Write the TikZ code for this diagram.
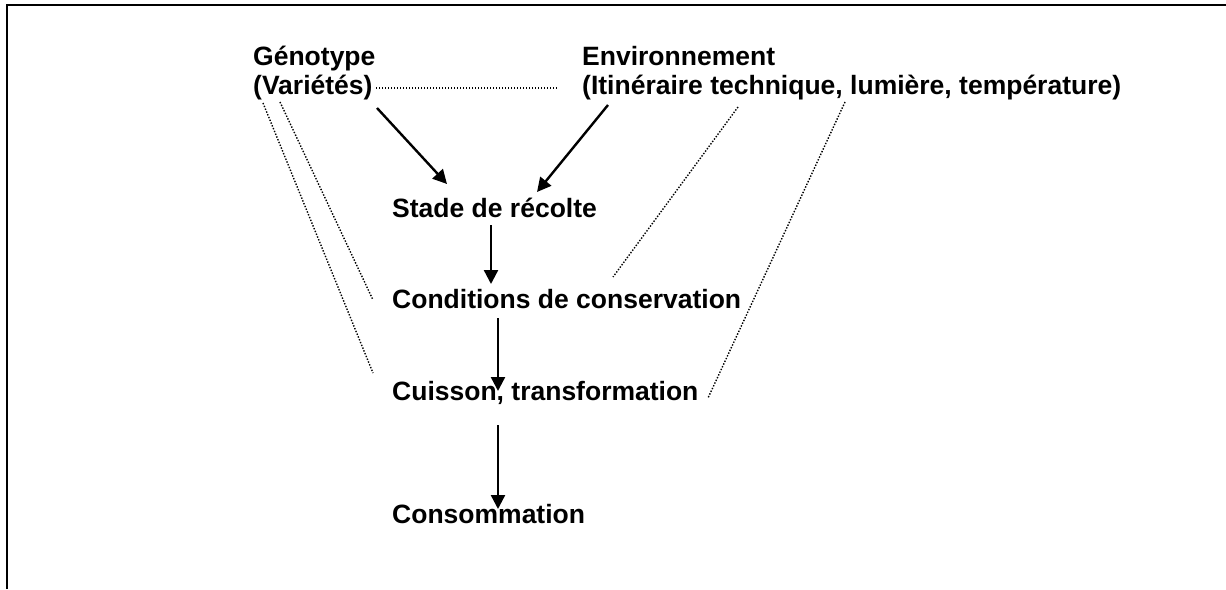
\documentclass[tikz,border=0pt]{standalone}
\usepackage{fontspec}
\setmainfont{Liberation Sans}
\usetikzlibrary{arrows.meta}
\begin{document}
\begin{tikzpicture}[x=1pt,y=-1pt,
  lbl/.style={anchor=base west,inner sep=0pt,font=\fontsize{26.5}{30}\selectfont\bfseries},
  arr/.style={line width=2.4pt,-{Triangle[length=14pt,width=14pt]}},
  dots/.style={line width=1.4pt,dash pattern=on 1.4pt off 1.6pt}]
\useasboundingbox (0,0) rectangle (1226,589);
\draw[line width=2pt] (6.5,589) -- (6.5,5) -- (1226,5);
\node[lbl] (geno) at (253,65) {Génotype};
\node[lbl] (vari) at (253,94) {(Variétés)};
\node[lbl] (envi) at (582,65) {Environnement};
\node[lbl] (itin) at (582,94) {(Itinéraire technique, lumière, température)};
\node[lbl] (stade) at (392,217) {Stade de récolte};
\node[lbl] (cond) at (392,308) {Conditions de conservation};
\node[lbl] (cuis) at (392,400) {Cuisson, transformation};
\node[lbl] (cons) at (392,523) {Consommation};
% arrow end points
\coordinate (a1s) at (377,108);
\coordinate (a1e) at (447,184);
\coordinate (a2s) at (608,105);
\coordinate (a2e) at (537,192);
\coordinate (a3s) at (491,225);
\coordinate (a3e) at (491,284);
\coordinate (a4s) at (498,318);
\coordinate (a4e) at (498,391);
\coordinate (a5s) at (498,425);
\coordinate (a5e) at (498,509);
\draw[arr] (a1s) -- (a1e);
\draw[arr] (a2s) -- (a2e);
\draw[arr] (a3s) -- (a3e);
\draw[arr] (a4s) -- (a4e);
\draw[arr] (a5s) -- (a5e);
% dotted lines
\coordinate (h1) at (376,88);
\coordinate (h2) at (558,88);
\draw[dots] (h1) -- (h2);
\coordinate (l1a) at (263,103);
\coordinate (l1b) at (373,373);
\coordinate (l2a) at (280,102);
\coordinate (l2b) at (373,300);
\draw[dots] (l1a) -- (l1b);
\draw[dots] (l2a) -- (l2b);
\coordinate (r1a) at (738,107);
\coordinate (r1b) at (613,277);
\coordinate (r2a) at (845,102);
\coordinate (r2b) at (708,398);
\draw[dots] (r1a) -- (r1b);
\draw[dots] (r2a) -- (r2b);
\end{tikzpicture}
\end{document}
